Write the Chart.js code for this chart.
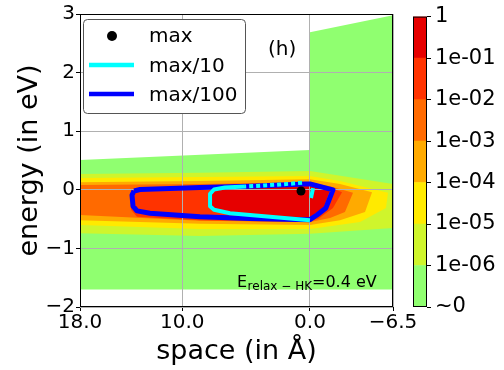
<!DOCTYPE html>
<html>
<head>
<meta charset="UTF-8">
<title>energy vs space</title>
<style>
  body { margin: 0; background: #fff; }
  #wrap { position: relative; width: 504px; height: 370px; }
  #main { position: absolute; left: 0; top: 0; }
  #cbar { position: absolute; left: 400px; top: 0; }
</style>
</head>
<body>
<div id="wrap">
  <canvas id="main" width="504" height="370"></canvas>
  <canvas id="cbar" width="104" height="370"></canvas>
</div>
<script src="https://cdn.jsdelivr.net/npm/chart.js@4"></script>
<script>
// axes
const xTicks = [18, 10, 0, -6.5];
const xTickLabels = ['18.0', '10.0', '0.0', '−6.5'];
const yTicks = [-2, -1, 0, 1, 2, 3];
const yTickLabels = ['−2', '−1', '0', '1', '2', '3'];

// colour bar, bottom to top
const cbLabels = ['~0', '1e-06', '1e-05', '1e-04', '1e-03', '1e-02', '1e-01', '1'];
const cbColors = ['#90ff70', '#cff52c', '#ffea00', '#ffaa00', '#ff6a00', '#ff3300', '#e60000'];

// filled levels (x in Å, y in eV), outermost first
const greenX = [18, 0, 0, -6.5, -6.5, 18];
const greenY = [0.51, 0.68, 2.69, 2.98, -1.70, -1.70];
const limeX = [18, 8.61, 0, -6.5, -6.5, 0, 8.61, 18];
const limeY = [0.27, 0.29, 0.32, 0.10, -0.65, -0.75, -0.79, -0.74];
const yellowX = [18, 8.61, 0, -2.35, -6.11, -5.95, -3.92, 0, 8.61, 18];
const yellowY = [0.20, 0.22, 0.235, 0.15, -0.05, -0.31, -0.55, -0.67, -0.67, -0.60];
const amberX = [18, 8.61, 0, -2.35, -4.86, -4.31, -2.35, 0, 8.61, 18];
const amberY = [0.13, 0.15, 0.18, 0.10, -0.04, -0.38, -0.52, -0.60, -0.58, -0.52];
const orangeX = [18, 8.61, 0, -1.57, -3.37, -2.74, -1.57, 0, 8.61, 18];
const orangeY = [0.08, 0.10, 0.13, 0.06, -0.05, -0.38, -0.48, -0.55, -0.53, -0.43];
const redOrX = [14.01, 8.61, 0.78, -0.63, -2.04, -2.51, -1.80, -0.63, 0.78, 8.61, 13.54, 14.01];
const redOrY = [0.00, 0.05, 0.12, 0.10, 0.00, -0.04, -0.31, -0.50, -0.55, -0.52, -0.46, -0.34];
const redX = [7.51, 5.09, 0.78, 0.31, -0.63, -1.57, -1.10, -0.39, 0, 3.13, 6.26, 7.51, 7.82, 7.82];
const redY = [0.01, 0.04, 0.12, 0.10, 0.06, 0.00, -0.29, -0.41, -0.48, -0.45, -0.38, -0.34, -0.26, -0.07];

// contour lines
const max100X = [13.77, 13.30, 8.61, 4.69, 0.39, 0.00, -1.80, -1.25, -0.55, 0.00, 4.69, 8.61, 12.52, 13.54, 13.85, 13.93, 13.77];
const max100Y = [-0.02, 0.005, 0.04, 0.06, 0.10, 0.10, 0.00, -0.31, -0.43, -0.51, -0.49, -0.46, -0.40, -0.36, -0.28, -0.09, -0.02];
const max10X = [0.62, 2.35, 3.91, 5.09, 6.65, 7.51, 7.82, 7.82, 7.51, 6.26, 3.13, 0.00];
const max10Y = [0.12, 0.09, 0.07, 0.056, 0.04, 0.005, -0.07, -0.28, -0.34, -0.40, -0.46, -0.52];
const max10bX = [-0.24, -0.08];
const max10bY = [0.03, -0.14];
const maxX = [0.70];
const maxY = [-0.02];

const legendLabels = ['max', 'max/10', 'max/100'];

Chart.defaults.font.family = '"DejaVu Sans", sans-serif';
Chart.defaults.color = '#000';

const zip = (xs, ys) => xs.map((x, i) => ({x: x, y: ys[i]}));

function area(xs, ys, color, order) {
  return {data: zip(xs, ys), showLine: true, fill: 'shape', backgroundColor: color,
          borderWidth: 0, pointRadius: 0, tension: 0, order: order};
}

const decor = {
  id: 'decor',
  afterDraw(chart) {
    const ctx = chart.ctx;
    const a = chart.chartArea;
    ctx.save();
    // frame
    ctx.strokeStyle = '#000';
    ctx.lineWidth = 1;
    ctx.strokeRect(a.left + 0.5, a.top + 0.5, a.right - a.left - 1, a.bottom - a.top - 1);

    // legend box
    const bx = 83.5, by = 19.5, bw = 162, bh = 94, r = 4;
    ctx.beginPath();
    ctx.moveTo(bx + r, by);
    ctx.arcTo(bx + bw, by, bx + bw, by + bh, r);
    ctx.arcTo(bx + bw, by + bh, bx, by + bh, r);
    ctx.arcTo(bx, by + bh, bx, by, r);
    ctx.arcTo(bx, by, bx + bw, by, r);
    ctx.closePath();
    ctx.fillStyle = '#fff';
    ctx.fill();
    ctx.strokeStyle = '#555';
    ctx.stroke();

    ctx.fillStyle = '#000';
    ctx.beginPath();
    ctx.arc(112, 36, 5, 0, Math.PI * 2);
    ctx.fill();
    ctx.lineWidth = 4.5;
    ctx.strokeStyle = '#00ffff';
    ctx.beginPath(); ctx.moveTo(89, 65); ctx.lineTo(134, 65); ctx.stroke();
    ctx.strokeStyle = '#0000ff';
    ctx.beginPath(); ctx.moveTo(89, 94); ctx.lineTo(134, 94); ctx.stroke();

    ctx.font = '20px "DejaVu Sans"';
    ctx.textBaseline = 'alphabetic';
    ctx.fillText(legendLabels[0], 149, 41.5);
    ctx.fillText(legendLabels[1], 149, 72);
    ctx.fillText(legendLabels[2], 149, 101);

    // panel tag
    ctx.fillText('(h)', a.left + 188, 54.5);

    // relaxation energy note
    let x = a.left + 157;
    const base = a.bottom - 20;
    ctx.font = '16px "DejaVu Sans"';
    ctx.fillText('E', x, base);
    x += ctx.measureText('E').width + 0.5;
    ctx.font = '12px "DejaVu Sans"';
    ctx.fillText('relax − HK', x, base + 3);
    x += ctx.measureText('relax − HK').width;
    ctx.font = '16px "DejaVu Sans"';
    ctx.fillText('=0.4 eV', x, base);
    ctx.restore();
  }
};

new Chart(document.getElementById('main'), {
  type: 'scatter',
  data: {
    datasets: [
      area(greenX, greenY, cbColors[0], 16),
      area(limeX, limeY, cbColors[1], 15),
      area(yellowX, yellowY, cbColors[2], 14),
      area(amberX, amberY, cbColors[3], 13),
      area(orangeX, orangeY, cbColors[4], 12),
      area(redOrX, redOrY, cbColors[5], 11),
      area(redX, redY, cbColors[6], 10),
      {data: zip(max100X, max100Y), showLine: true, fill: false, borderColor: '#0000ff',
       borderWidth: 5, pointRadius: 0, borderJoinStyle: 'round', order: 3},
      {data: zip(max10X, max10Y), showLine: true, fill: false, borderColor: '#00ffff',
       borderWidth: 4, pointRadius: 0, borderJoinStyle: 'round', order: 2,
       segment: {borderDash: c => c.p1DataIndex <= 3 ? [4, 3] : undefined}},
      {data: zip(max10bX, max10bY), showLine: true, fill: false, borderColor: '#00ffff',
       borderWidth: 4, pointRadius: 0, order: 2},
      {data: zip(maxX, maxY), showLine: false, pointRadius: 4.5, backgroundColor: '#000',
       borderWidth: 0, order: 1}
    ]
  },
  options: {
    responsive: false,
    animation: false,
    events: [],
    layout: {padding: {top: 14, right: 111, left: 0, bottom: 0}},
    plugins: {
      legend: {display: false},
      tooltip: {enabled: false},
      filler: {drawTime: 'beforeDraw'}
    },
    scales: {
      x: {
        type: 'linear', reverse: true, min: -6.5, max: 18,
        afterBuildTicks: s => { s.ticks = xTicks.map(v => ({value: v})); },
        afterFit: s => { s.height = 63; },
        ticks: {callback: v => xTickLabels[xTicks.indexOf(v)], font: {size: 20},
                autoSkip: false, maxRotation: 0, padding: 0},
        grid: {color: '#b0b0b0', tickColor: '#000', tickLength: 4},
        border: {display: false},
        title: {display: true, text: 'space (in Å)', font: {size: 27}, padding: {bottom: 2}}
      },
      y: {
        min: -2, max: 3,
        afterBuildTicks: s => { s.ticks = yTicks.map(v => ({value: v})); },
        afterFit: s => { s.width = 80; },
        ticks: {callback: v => yTickLabels[yTicks.indexOf(v)], font: {size: 20}, padding: 1},
        grid: {color: '#b0b0b0', tickColor: '#000', tickLength: 4},
        border: {display: false},
        title: {display: true, text: 'energy (in eV)', font: {size: 27}, padding: {top: 14}}
      }
    }
  },
  plugins: [decor]
});

const outline = {
  id: 'outline',
  afterDraw(chart) {
    const ctx = chart.ctx;
    const a = chart.chartArea;
    ctx.save();
    ctx.strokeStyle = '#000';
    ctx.lineWidth = 1;
    ctx.strokeRect(a.left + 0.5, a.top + 0.5, a.right - a.left - 1, a.bottom - a.top - 1);
    ctx.restore();
  }
};

new Chart(document.getElementById('cbar'), {
  type: 'bar',
  data: {
    labels: [''],
    datasets: cbColors.map(c => ({data: [1], backgroundColor: c, borderWidth: 0,
                                  barPercentage: 1, categoryPercentage: 1}))
  },
  options: {
    responsive: false,
    animation: false,
    events: [],
    layout: {padding: {left: 13, top: 14, bottom: 63, right: 0}},
    plugins: {legend: {display: false}, tooltip: {enabled: false}},
    scales: {
      x: {stacked: true, display: false},
      y: {
        stacked: true, position: 'right', min: 0, max: 7,
        afterBuildTicks: s => { s.ticks = cbLabels.map((l, i) => ({value: i})); },
        afterFit: s => { s.width = 77; },
        ticks: {callback: v => cbLabels[v], font: {size: 21}, padding: 4},
        grid: {drawOnChartArea: false, tickColor: '#000', tickLength: 4},
        border: {display: false}
      }
    }
  },
  plugins: [outline]
});
</script>
</body>
</html>
